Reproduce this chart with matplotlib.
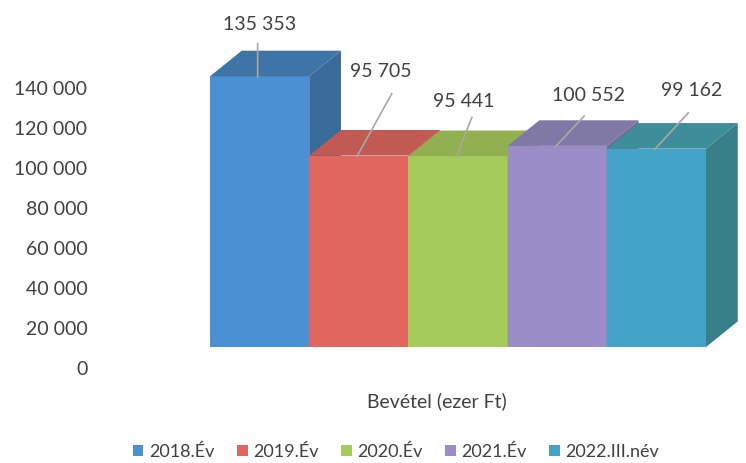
import matplotlib

matplotlib.use("Agg")

import matplotlib.pyplot as plt  # noqa: E402
from matplotlib.patches import Patch, Polygon  # noqa: E402

plt.rcParams.update({
    "font.family": ["Lato", "DejaVu Sans"],
    "text.color": "#404040",
})

# data
years = ["2018.Év", "2019.Év", "2020.Év", "2021.Év", "2022.III.név"]
revenue = [135353, 95705, 95441, 100552, 99162]
yticks = [0, 20000, 40000, 60000, 80000, 100000, 120000, 140000]

# colours per bar: front, top, side
front = ["#4a90d2", "#e0665f", "#a5cb5b", "#9a8dc8", "#43a4c8"]
top = ["#3f74a6", "#c25a54", "#91b050", "#8079a6", "#3d8e98"]
side = ["#3a6c9a", "#b0504b", "#82a048", "#736c98", "#37808a"]

# fake 3D: floor raised above zero, depth offset of the top/side faces
BASE = 10500
DX, DY = 0.32, 12800

# label / leader offsets in pixels from the front-top centre of each bar
label_off = [(0, 52), (22, 84), (6, 55), (31, 50), (35, 58)]
leader_off = [(0, 34), (35, 63), (16, 40), (29, 31), (34, 37)]

fig = plt.figure(figsize=(7.46, 4.63), dpi=100)
ax = fig.add_axes([100 / 746, 0, 646 / 746, 1])
ax.set_xlim(-1.609, 4.903)
ax.set_ylim(-47500, 184000)

x = list(range(len(revenue)))
bars = ax.bar(x, revenue, bottom=BASE, width=1, color=front, linewidth=0)
for i, (bar, v) in enumerate(zip(bars, revenue)):
    z = 2 + i * 0.1
    bar.set_zorder(z)
    x0, x1 = i - 0.5, i + 0.5
    y0, y1 = BASE, BASE + v
    ax.add_patch(Polygon([(x0, y1), (x1, y1), (x1 + DX, y1 + DY), (x0 + DX, y1 + DY)],
                         closed=True, facecolor=top[i], lw=0, zorder=z))
    ax.add_patch(Polygon([(x1, y0), (x1, y1), (x1 + DX, y1 + DY), (x1 + DX, y0 + DY)],
                         closed=True, facecolor=side[i], lw=0, zorder=z))
    ax.annotate("", xy=(i - 0.02, y1 - 500), xytext=leader_off[i],
                textcoords="offset pixels",
                arrowprops=dict(arrowstyle="-", color="#a8a8a8", lw=1.2,
                                shrinkA=0, shrinkB=0), zorder=5)
    ax.annotate(f"{v:,}".replace(",", " "), xy=(i, y1), xytext=label_off[i],
                textcoords="offset pixels", ha="center", va="center",
                fontsize=14, color="#404040", zorder=6)

ax.set_yticks(yticks)
ax.set_yticklabels([f"{t:,}".replace(",", " ") for t in yticks], fontsize=14, color="#404040")
ax.tick_params(axis="y", length=0, pad=9)
ax.set_xticks([])
for spine in ax.spines.values():
    spine.set_visible(False)

fig.text(437 / 746, 1 - 401 / 463, "Bevétel (ezer Ft)", ha="center", va="center",
         fontsize=14, color="#404040")

handles = [Patch(facecolor=c, edgecolor="none") for c in front]
fig.legend(handles, years, loc="center", bbox_to_anchor=(396 / 746, 1 - 452 / 463),
           ncol=5, frameon=False, fontsize=13, handlelength=0.6, handleheight=0.6,
           handletextpad=0.3, columnspacing=1.25, labelcolor="#404040",
           borderpad=0.2)

fig.savefig("out.png", dpi=100)
